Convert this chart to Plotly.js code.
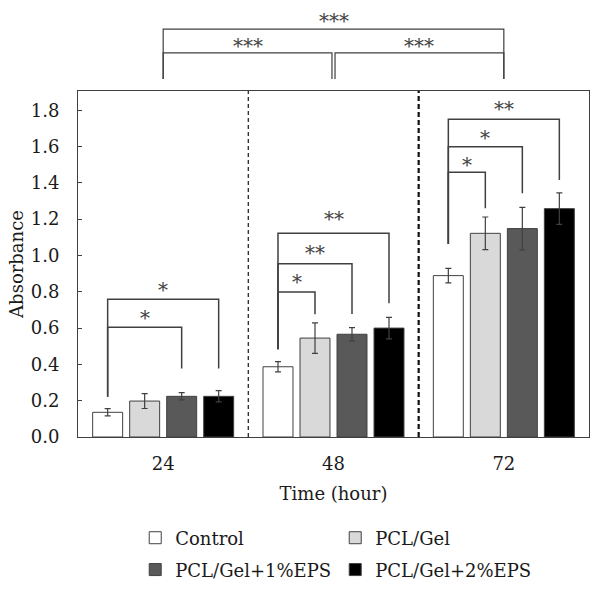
<!DOCTYPE html>
<html><head><meta charset="utf-8">
<script src="https://cdn.plot.ly/plotly-3.0.1.min.js"></script>
<style>body{margin:0;background:#fff}#chart{width:610px;height:590px}</style>
</head><body><div id="chart"></div>
<script>
// ---- data ----
const times = ['24', '48', '72'];
const seriesNames = ['Control', 'PCL/Gel', 'PCL/Gel+1%EPS', 'PCL/Gel+2%EPS'];
const control = [0.136, 0.387, 0.889];
const controlErr = [0.020, 0.028, 0.040];
const pclGel = [0.198, 0.545, 1.122];
const pclGelErr = [0.041, 0.084, 0.090];
const eps1 = [0.224, 0.566, 1.148];
const eps1Err = [0.020, 0.037, 0.117];
const eps2 = [0.224, 0.600, 1.258];
const eps2Err = [0.031, 0.059, 0.087];
const yTicks = [0, 0.2, 0.4, 0.6, 0.8, 1.0, 1.2, 1.4, 1.6, 1.8];

// significance brackets within each time point (Control vs bar k)
const brGroup = [0, 0, 1, 1, 1, 2, 2, 2];
const brTarget = [2, 3, 1, 2, 3, 1, 2, 3];
const brTop = [0.604, 0.759, 0.799, 0.955, 1.122, 1.458, 1.599, 1.750];
const brLeftBottom = [0.222, 0.222, 0.483, 0.483, 0.483, 1.063, 1.063, 1.063];
const brRightBottom = [0.378, 0.378, 0.676, 0.678, 0.737, 1.260, 1.343, 1.416];
const brLabel = ['*', '*', '*', '**', '**', '*', '*', '**'];
const brLabelY = [0.678, 0.832, 0.874, 1.036, 1.223, 1.521, 1.669, 1.829];

// significance between time points (drawn above the plot)
const tpFrom = [0, 1, 0];
const tpTo = [1, 2, 2];
const tpLabel = ['***', '***', '***'];

// ---- styling ----
const FONT = 'DejaVu Serif, Liberation Serif, serif';
const TXT = '#1a1a1a';
const LINE = '#404040';
const colors = ['#ffffff', '#d9d9d9', '#595959', '#000000'];
const values = [control, pclGel, eps1, eps2];
const errs = [controlErr, pclGelErr, eps1Err, eps2Err];
const xIdx = times.map((t, i) => i);
const BARGAP = 0.131, BARGROUPGAP = 0.19;
const slot = (1 - BARGAP) / seriesNames.length;
const barOffset = k => (k - (seriesNames.length - 1) / 2) * slot;
const STAR_FONT = {family: FONT, size: 20, color: '#444444'};

const traces = seriesNames.map((name, k) => ({
  type: 'bar', name: name, x: xIdx, y: values[k],
  marker: {color: colors[k], line: {color: LINE, width: 1}},
  error_y: {type: 'data', array: errs[k], visible: true, color: LINE, thickness: 1.2, width: 3},
  legend: k < 2 ? 'legend' : 'legend2',
  hoverinfo: 'skip'
}));

// in-plot brackets
const bx = [], by = [];
const annotations = [];
brGroup.forEach((g, i) => {
  const xl = g + barOffset(0), xr = g + barOffset(brTarget[i]);
  bx.push(xl, xl, xr, xr, null);
  by.push(brLeftBottom[i], brTop[i], brTop[i], brRightBottom[i], null);
  annotations.push({x: (xl + xr) / 2, y: brLabelY[i], xref: 'x', yref: 'y', text: brLabel[i],
    showarrow: false, yanchor: 'middle', yshift: -4, font: STAR_FONT});
});
traces.push({type: 'scatter', mode: 'lines', x: bx, y: by, showlegend: false, hoverinfo: 'skip',
  line: {color: LINE, width: 1.5}, connectgaps: false});

// brackets between time points (paper y)
const tpLevel = [1.110, 1.110, 1.179];
const tpLabelY = [1.142, 1.142, 1.213];
const legBottom = 1.035;
const shapes = [];
tpFrom.forEach((a, i) => {
  const b = tpTo[i];
  const x0 = a + (a === 1 ? 0.009 : 0);
  const x1 = b - (b === 1 ? 0.009 : 0);
  shapes.push({type: 'path', xref: 'x', yref: 'paper',
    path: `M ${x0},${legBottom} L ${x0},${tpLevel[i]} L ${x1},${tpLevel[i]} L ${x1},${legBottom}`,
    line: {color: LINE, width: 1.2}});
  annotations.push({x: (x0 + x1) / 2, y: tpLabelY[i], xref: 'x', yref: 'paper', text: tpLabel[i],
    showarrow: false, yanchor: 'middle', yshift: -4, font: STAR_FONT});
});
// dashed separators between time points
shapes.push({type: 'line', xref: 'x', yref: 'paper', x0: 0.5, x1: 0.5, y0: 0, y1: 1,
  line: {color: '#333', width: 1.4, dash: '4px,3px'}});
shapes.push({type: 'line', xref: 'x', yref: 'paper', x0: 1.5, x1: 1.5, y0: 0, y1: 1,
  line: {color: '#111', width: 2.2, dash: '5px,3px'}});

const legendBase = {orientation: 'h', xanchor: 'left', yanchor: 'middle', x: 0.112,
  entrywidth: 155, entrywidthmode: 'pixels', bgcolor: 'rgba(0,0,0,0)', traceorder: 'normal',
  font: {family: FONT, size: 18, color: TXT}};

const layout = {
  width: 610, height: 590,
  margin: {l: 78, r: 21, t: 91, b: 153, autoexpand: false},
  paper_bgcolor: '#fff', plot_bgcolor: '#fff',
  font: {family: FONT, size: 18, color: TXT},
  barmode: 'group', bargap: BARGAP, bargroupgap: BARGROUPGAP,
  xaxis: {range: [-0.5, 2.5], tickvals: xIdx, ticktext: times, ticks: '',
    showline: true, mirror: true, linecolor: LINE, linewidth: 1, showgrid: false, zeroline: false,
    ticklabelstandoff: 10, tickfont: {family: FONT, size: 18, color: TXT},
    title: {text: 'Time (hour)', standoff: 14, font: {family: FONT, size: 18, color: TXT}}},
  yaxis: {range: [0, 1.906], tickvals: yTicks, ticktext: yTicks.map(v => v.toFixed(1)),
    ticks: 'inside', ticklen: 4, tickcolor: LINE, tickwidth: 1,
    showline: true, mirror: true, linecolor: LINE, linewidth: 1, showgrid: false, zeroline: false,
    ticklabelstandoff: 14, tickfont: {family: FONT, size: 18, color: TXT},
    title: {text: 'Absorbance', standoff: 2, font: {family: FONT, size: 18, color: TXT}}},
  legend: Object.assign({}, legendBase, {y: -0.292}),
  legend2: Object.assign({}, legendBase, {y: -0.384}),
  shapes: shapes,
  annotations: annotations
};

Plotly.newPlot('chart', traces, layout, {staticPlot: true, displayModeBar: false});
</script></body></html>
